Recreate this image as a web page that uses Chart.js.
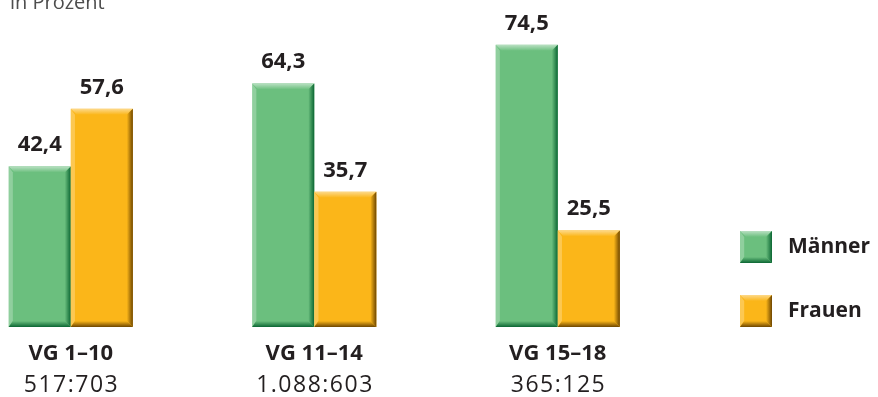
<!DOCTYPE html>
<html lang="de">
<head>
<meta charset="utf-8">
<script src="https://cdn.jsdelivr.net/npm/chart.js@4.4.1/dist/chart.umd.min.js"></script>
<style>
  html, body { margin: 0; padding: 0; background: #fff; }
  #box { position: relative; width: 878px; height: 397px; overflow: hidden; }
  #myChart { position: absolute; left: -51px; top: 0; }
</style>
</head>
<body>
<div id="box"><canvas id="myChart" width="929" height="397"></canvas></div>
<script>
// Daten
const gruppen = ['VG 1–10', 'VG 11–14', 'VG 15–18'];
const verhaeltnis = ['517:703', '1.088:603', '365:125'];
const maenner = [42.4, 64.3, 74.5];
const frauen = [57.6, 35.7, 25.5];
const serien = ['Männer', 'Frauen'];

const FONT = '"Open Sans", "Noto Sans", sans-serif';
const SHIFT = 51; // Canvas ist um diesen Betrag nach links verschoben

// Farben: Grundton, helle Kante, dunkle Kante
const gruen = { base: '#6bbf7e', light: '#b9e0c2', dark: '#0b6633' };
const gelb = { base: '#fbb619', light: '#fdd98a', dark: '#6e4600' };

// Quader-Effekt: Fläche mit hellen/dunklen Kanten
const bevel = (ctx, x0, y0, x1, y1, col, b) => {
  ctx.save();
  ctx.fillStyle = col.base;
  ctx.fillRect(x0, y0, x1 - x0, y1 - y0);

  // oben hell
  let g = ctx.createLinearGradient(0, y0, 0, y0 + b);
  g.addColorStop(0, col.light);
  g.addColorStop(1, col.base);
  ctx.fillStyle = g;
  ctx.beginPath();
  ctx.moveTo(x0, y0); ctx.lineTo(x1, y0); ctx.lineTo(x1 - b, y0 + b); ctx.lineTo(x0 + b, y0 + b);
  ctx.closePath(); ctx.fill();

  // links hell
  ctx.fillStyle = 'rgba(255,255,255,0.25)';
  ctx.beginPath();
  ctx.moveTo(x0, y0); ctx.lineTo(x0 + b * 0.7, y0 + b); ctx.lineTo(x0 + b * 0.7, y1 - b); ctx.lineTo(x0, y1);
  ctx.closePath(); ctx.fill();

  // rechts dunkel
  g = ctx.createLinearGradient(x1 - b, 0, x1, 0);
  g.addColorStop(0, col.base);
  g.addColorStop(1, col.dark);
  ctx.fillStyle = g;
  ctx.beginPath();
  ctx.moveTo(x1, y0); ctx.lineTo(x1, y1); ctx.lineTo(x1 - b, y1 - b); ctx.lineTo(x1 - b, y0 + b);
  ctx.closePath(); ctx.fill();

  // unten dunkel
  g = ctx.createLinearGradient(0, y1 - b, 0, y1);
  g.addColorStop(0, col.base);
  g.addColorStop(1, col.dark);
  ctx.fillStyle = g;
  ctx.beginPath();
  ctx.moveTo(x0, y1); ctx.lineTo(x1, y1); ctx.lineTo(x1 - b, y1 - b); ctx.lineTo(x0 + b * 0.7, y1 - b);
  ctx.closePath(); ctx.fill();
  ctx.restore();
};

const farben = [gruen, gelb];

// Balken, Werte, Zweitzeile, Legende und Überschrift
const extras = {
  id: 'extras',
  afterDatasetsDraw: (chart) => {
    const { ctx } = chart;
    chart.data.datasets.forEach((ds, di) => {
      chart.getDatasetMeta(di).data.forEach((bar, i) => {
        const p = bar.getProps(['x', 'y', 'base', 'width'], true);
        bevel(ctx, p.x - p.width / 2, p.y, p.x + p.width / 2, p.base, farben[di], 6);

        ctx.save();
        ctx.font = 'bold 22px ' + FONT;
        ctx.fillStyle = '#231f20';
        ctx.textAlign = 'center';
        ctx.textBaseline = 'alphabetic';
        ctx.fillText(ds.data[i].toFixed(1).replace('.', ','), p.x, p.y - 15);
        ctx.restore();
      });
    });

    // zweite Zeile unter den Gruppen (etwas gesperrt)
    const x = chart.scales.x;
    const sp = 1.5;
    ctx.save();
    ctx.font = '23px ' + FONT;
    ctx.letterSpacing = sp + 'px';
    ctx.fillStyle = '#231f20';
    ctx.textAlign = 'center';
    ctx.textBaseline = 'middle';
    verhaeltnis.forEach((t, i) => ctx.fillText(t, x.getPixelForTick(i) + sp / 2, 385));
    ctx.restore();

    // Legende rechts
    ctx.save();
    serien.forEach((s, i) => {
      const y = 231 + i * 64;
      bevel(ctx, 740 + SHIFT, y, 772 + SHIFT, y + 32, farben[i], 6);
      ctx.font = 'bold 21px ' + FONT;
      ctx.fillStyle = '#231f20';
      ctx.textBaseline = 'middle';
      ctx.fillText(s, 788 + SHIFT, y + 16);
    });
    ctx.restore();

    // Einheit oben links
    ctx.save();
    ctx.font = '20px ' + FONT;
    ctx.fillStyle = '#4d4d4d';
    ctx.textBaseline = 'alphabetic';
    ctx.fillText('in Prozent', 10 + SHIFT, 9);
    ctx.restore();
  }
};

const ctx = document.getElementById('myChart');

new Chart(ctx, {
  type: 'bar',
  data: {
    labels: gruppen,
    datasets: [
      { label: serien[0], data: maenner, backgroundColor: 'rgba(0,0,0,0)' },
      { label: serien[1], data: frauen, backgroundColor: 'rgba(0,0,0,0)' }
    ]
  },
  options: {
    responsive: false,
    animation: false,
    devicePixelRatio: 1,
    categoryPercentage: 0.51,
    barPercentage: 1,
    layout: { padding: { left: 0, right: 198.5, top: 24, bottom: 0 } },
    plugins: { legend: { display: false }, tooltip: { enabled: false } },
    scales: {
      x: {
        grid: { display: false, drawTicks: false },
        border: { display: false },
        ticks: {
          padding: 14,
          color: '#231f20',
          font: { family: FONT, size: 22, weight: 'bold' }
        },
        afterFit: (scale) => { scale.height = 70; }
      },
      y: { display: false, min: 0, max: 80 }
    }
  },
  plugins: [extras]
});
</script>
</body>
</html>
